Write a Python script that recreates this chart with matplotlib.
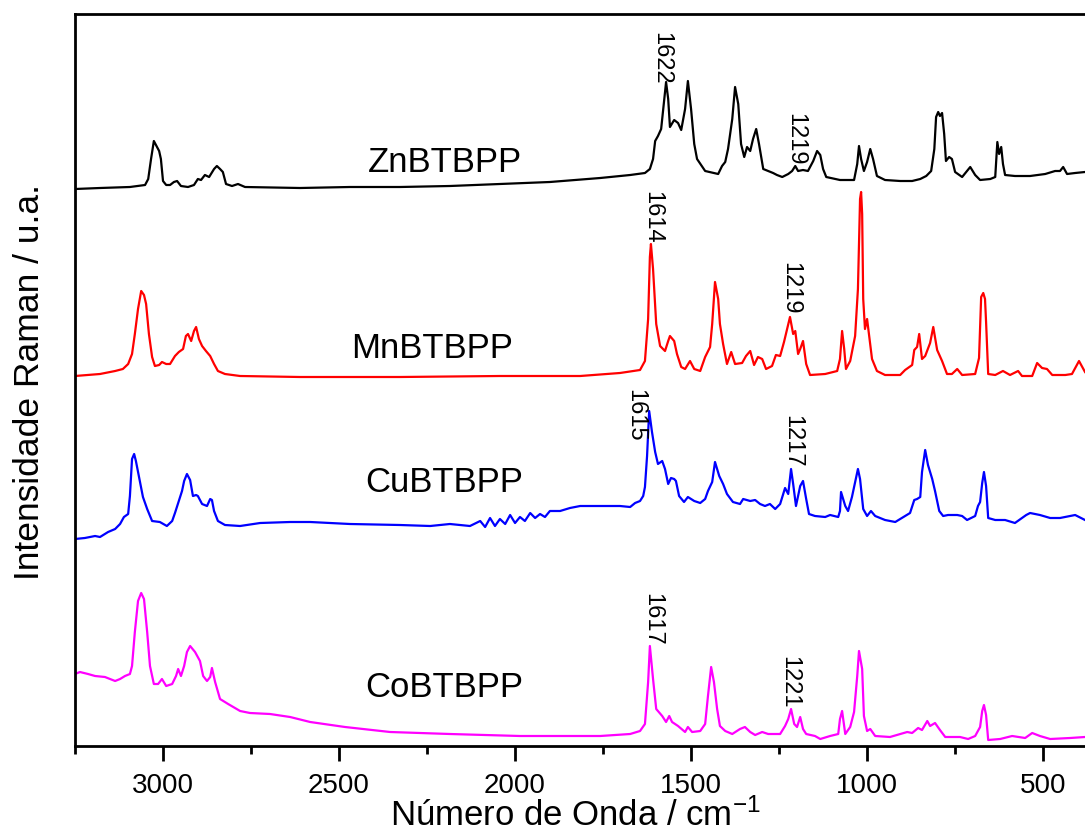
import matplotlib
matplotlib.use("Agg")
import matplotlib.pyplot as plt
from matplotlib.ticker import MultipleLocator

plt.rcParams['font.family'] = ['Liberation Sans', 'DejaVu Sans']
plt.rcParams['mathtext.default'] = 'regular'

# ---------------- data (wavenumber / cm-1, intensity a.u. incl. offset) -------------
zn_x = [3250, 3179, 3094, 3051, 3042, 3034, 3026, 3020, 3011, 3006, 3000, 2991, 2980, 2969, 2960,
        2949, 2929, 2912, 2901, 2892, 2881, 2869, 2855, 2847, 2838, 2830, 2821, 2804, 2787, 2767,
        2611, 2469, 2327, 2185, 2043, 1901, 1758, 1673, 1631, 1617, 1608, 1602, 1594, 1585, 1579,
        1571, 1565, 1560, 1548, 1537, 1528, 1517, 1509, 1500, 1491, 1483, 1460, 1423, 1412, 1403,
        1395, 1383, 1375, 1366, 1358, 1349, 1341, 1332, 1324, 1315, 1307, 1295, 1281, 1267, 1256,
        1241, 1224, 1213, 1204, 1196, 1182, 1168, 1153, 1142, 1133, 1125, 1116, 1077, 1037, 1028,
        1023, 1017, 1009, 1000, 991, 983, 972, 949, 906, 872, 849, 832, 818, 809, 804,
        798, 793, 787, 781, 776, 767, 759, 750, 730, 716, 707, 693, 679, 650, 636,
        630, 625, 619, 614, 608, 580, 537, 494, 466, 452, 443, 432, 409, 381]
zn_y = [557, 558, 559, 561, 567, 587, 605, 601, 595, 587, 565, 561, 561, 564, 565,
        560, 559, 561, 567, 566, 571, 569, 577, 580, 577, 574, 562, 560, 562, 559,
        558, 559, 559, 560, 562, 564, 568, 571, 573, 577, 587, 605, 610, 617, 637,
        664, 647, 619, 626, 623, 616, 637, 665, 637, 602, 587, 575, 572, 580, 584,
        597, 627, 659, 642, 602, 589, 599, 595, 607, 617, 602, 577, 575, 573, 571,
        569, 572, 575, 580, 575, 576, 575, 585, 595, 591, 577, 569, 566, 566, 582,
        600, 587, 575, 584, 597, 587, 570, 566, 565, 565, 567, 570, 575, 597, 629,
        634, 630, 633, 612, 585, 589, 587, 574, 569, 575, 579, 571, 566, 567, 569,
        604, 592, 599, 582, 571, 570, 570, 572, 575, 575, 579, 572, 573, 574]

mn_x = [3250, 3179, 3136, 3114, 3099, 3088, 3080, 3071, 3062, 3054, 3048, 3040, 3031, 3023, 3011,
        3003, 2991, 2980, 2966, 2955, 2943, 2935, 2929, 2920, 2912, 2906, 2898, 2889, 2878, 2866,
        2855, 2844, 2824, 2781, 2611, 2327, 2043, 1815, 1702, 1645, 1631, 1622, 1617, 1614, 1608,
        1599, 1588, 1574, 1565, 1560, 1548, 1540, 1528, 1517, 1503, 1491, 1474, 1460, 1446, 1440,
        1432, 1423, 1418, 1409, 1398, 1386, 1375, 1355, 1344, 1332, 1321, 1310, 1298, 1287, 1270,
        1259, 1247, 1236, 1227, 1219, 1210, 1204, 1196, 1190, 1182, 1173, 1162, 1119, 1085, 1077,
        1071, 1065, 1060, 1048, 1034, 1026, 1020, 1017, 1014, 1011, 1006, 1000, 994, 986, 972,
        949, 906, 892, 872, 866, 858, 852, 844, 835, 821, 812, 801, 787, 773, 759,
        744, 730, 693, 682, 676, 670, 665, 662, 656, 636, 614, 594, 571, 560, 531,
        517, 503, 489, 474, 437, 418, 398, 381]
mn_y = [370, 372, 375, 377, 382, 392, 412, 437, 455, 451, 442, 412, 389, 380, 381,
        384, 382, 382, 390, 394, 397, 410, 412, 405, 415, 419, 407, 400, 395, 390,
        382, 375, 372, 370, 369, 369, 370, 370, 373, 376, 385, 427, 489, 502, 477,
        422, 400, 395, 405, 410, 405, 392, 379, 377, 385, 377, 375, 389, 399, 422,
        464, 447, 422, 402, 382, 394, 382, 383, 390, 395, 381, 389, 387, 377, 380,
        391, 390, 404, 417, 429, 412, 415, 392, 397, 405, 382, 371, 372, 375, 387,
        415, 397, 377, 385, 410, 457, 547, 554, 532, 447, 417, 427, 410, 387, 375,
        371, 371, 376, 381, 396, 399, 412, 387, 390, 403, 419, 396, 385, 372, 372,
        377, 371, 372, 388, 449, 453, 447, 424, 372, 371, 375, 371, 375, 370, 370,
        383, 378, 377, 371, 371, 372, 385, 374]

cu_x = [3250, 3222, 3193, 3179, 3156, 3136, 3122, 3111, 3099, 3094, 3088, 3082, 3077, 3068, 3057,
        3045, 3031, 3009, 2989, 2974, 2966, 2955, 2946, 2940, 2932, 2923, 2915, 2906, 2901, 2889,
        2875, 2866, 2861, 2855, 2844, 2824, 2781, 2724, 2639, 2582, 2469, 2327, 2241, 2185, 2128,
        2099, 2085, 2071, 2057, 2043, 2028, 2014, 2000, 1986, 1972, 1957, 1943, 1929, 1915, 1901,
        1872, 1844, 1815, 1702, 1673, 1659, 1645, 1636, 1631, 1625, 1619, 1611, 1602, 1594, 1582,
        1574, 1565, 1557, 1548, 1543, 1534, 1520, 1509, 1491, 1474, 1460, 1452, 1440, 1432, 1420,
        1409, 1398, 1381, 1361, 1352, 1332, 1318, 1304, 1290, 1276, 1261, 1247, 1233, 1224, 1216,
        1210, 1202, 1190, 1182, 1173, 1165, 1148, 1119, 1105, 1082, 1077, 1074, 1068, 1062, 1054,
        1043, 1034, 1026, 1020, 1011, 1000, 989, 977, 949, 920, 892, 878, 866, 858, 849,
        844, 835, 827, 815, 807, 795, 784, 770, 744, 730, 716, 693, 685, 679, 673,
        668, 662, 656, 636, 608, 580, 548, 537, 509, 480, 452, 423, 409, 381]
cu_y = [207, 208, 210, 209, 214, 217, 222, 229, 232, 250, 287, 292, 285, 269, 249,
        237, 225, 224, 220, 225, 233, 245, 255, 265, 272, 266, 250, 251, 250, 242,
        240, 247, 246, 235, 225, 221, 220, 223, 224, 224, 222, 221, 220, 222, 220,
        225, 219, 228, 220, 227, 222, 231, 223, 229, 225, 233, 228, 232, 229, 235,
        235, 238, 240, 240, 239, 243, 245, 250, 259, 290, 335, 314, 294, 282, 285,
        277, 262, 268, 267, 265, 250, 244, 249, 245, 243, 247, 255, 264, 284, 270,
        262, 252, 244, 242, 247, 245, 246, 242, 240, 242, 237, 242, 258, 252, 277,
        262, 240, 260, 265, 247, 232, 230, 229, 231, 229, 235, 254, 247, 240, 235,
        249, 264, 277, 267, 237, 230, 235, 230, 226, 224, 230, 233, 246, 247, 249,
        274, 296, 281, 267, 255, 235, 230, 231, 231, 230, 226, 230, 240, 244, 263,
        274, 260, 228, 226, 226, 223, 231, 233, 231, 228, 228, 230, 231, 226]

co_x = [3250, 3236, 3213, 3193, 3165, 3136, 3122, 3108, 3094, 3088, 3080, 3071, 3062, 3054, 3045,
        3037, 3026, 3014, 3003, 2991, 2974, 2963, 2957, 2949, 2940, 2932, 2923, 2909, 2895, 2886,
        2875, 2866, 2861, 2852, 2838, 2815, 2781, 2753, 2696, 2639, 2582, 2483, 2355, 2185, 1986,
        1758, 1673, 1645, 1631, 1622, 1617, 1608, 1599, 1582, 1571, 1562, 1554, 1537, 1517, 1509,
        1497, 1474, 1460, 1452, 1443, 1435, 1426, 1418, 1403, 1383, 1361, 1347, 1332, 1318, 1298,
        1281, 1247, 1233, 1224, 1216, 1207, 1199, 1190, 1182, 1173, 1148, 1133, 1105, 1082, 1077,
        1071, 1062, 1048, 1037, 1028, 1023, 1014, 1009, 1000, 991, 977, 935, 886, 872, 855,
        844, 829, 821, 807, 793, 778, 736, 713, 693, 679, 673, 668, 662, 656, 622,
        588, 551, 531, 509, 480, 423, 381]
co_y = [72, 74, 72, 70, 69, 65, 67, 70, 72, 80, 114, 145, 153, 147, 114,
        80, 62, 62, 67, 60, 62, 70, 77, 70, 80, 94, 100, 94, 85, 70,
        65, 69, 78, 64, 47, 42, 35, 33, 32, 29, 24, 19, 14, 12, 10,
        10, 12, 15, 22, 64, 100, 67, 37, 30, 24, 30, 24, 20, 14, 19,
        14, 15, 22, 50, 79, 64, 37, 20, 15, 12, 17, 19, 14, 11, 14,
        12, 12, 20, 27, 37, 22, 19, 29, 17, 12, 10, 7, 10, 12, 27,
        35, 12, 19, 34, 70, 95, 77, 30, 15, 17, 10, 9, 14, 13, 18,
        16, 25, 20, 23, 16, 9, 9, 7, 10, 19, 35, 41, 31, 6, 7,
        10, 8, 13, 10, 7, 8, 9]

names = ['ZnBTBPP', 'MnBTBPP', 'CuBTBPP', 'CoBTBPP']
colors = ['black', 'red', 'blue', 'magenta']
name_pos_x = [2199, 2236, 2202, 2202]
name_pos_y = [585, 398, 264, 59]

peak_labels = ['1622', '1219', '1614', '1219', '1615', '1217', '1617', '1221']
peak_lab_x = [1585, 1204, 1611, 1219, 1659, 1213, 1611, 1222]
peak_lab_y = [689, 608, 530, 459, 332, 306, 128, 65]

xticks_major = [3000, 2500, 2000, 1500, 1000, 500]

# ---------------- figure ----------------
W, H = 1085, 837
fig = plt.figure(figsize=(W / 100, H / 100), dpi=100)
ax = fig.add_axes([75 / W, (H - 747) / H, 1 - 75 / W, (747 - 15) / H])

series = [(zn_x, zn_y), (mn_x, mn_y), (cu_x, cu_y), (co_x, co_y)]
for (xs, ys), c in zip(series, colors):
    ax.plot(xs, ys, color=c, lw=1.6, solid_joinstyle='round')

for n, x, y in zip(names, name_pos_x, name_pos_y):
    ax.text(x, y, n, fontsize=25, ha='center', va='center')

for t, x, y in zip(peak_labels, peak_lab_x, peak_lab_y):
    ax.text(x, y, t, fontsize=17, rotation=-90, ha='center', va='center')

ax.set_xlim(3250, 381)
ax.set_ylim(0, 732)
ax.set_yticks([])
ax.set_xticks(xticks_major)
ax.xaxis.set_minor_locator(MultipleLocator(250))
ax.tick_params(axis='x', which='major', direction='out', length=11, width=2,
               labelsize=20, pad=8, top=False)
ax.tick_params(axis='x', which='minor', direction='out', length=5.5, width=2, top=False)
for s in ['left', 'bottom', 'top']:
    ax.spines[s].set_linewidth(2)
ax.spines['right'].set_visible(False)

fig.text(575 / W, 1 - 816 / H, 'Número de Onda / cm$^{-1}$', fontsize=25,
         ha='center', va='center')
fig.text(30 / W, 1 - 382 / H, 'Intensidade Raman / u.a.', fontsize=25.5,
         ha='center', va='center', rotation=90)

fig.savefig('out.png', dpi=100)
